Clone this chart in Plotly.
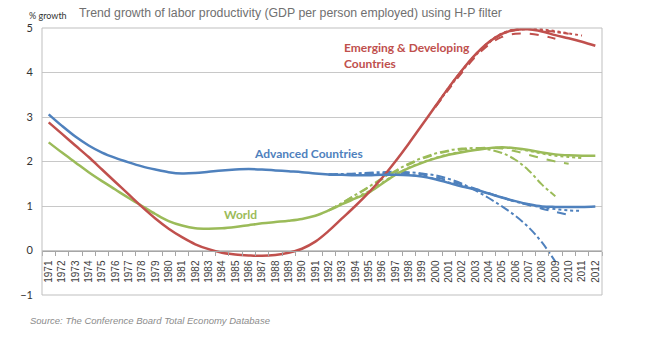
import plotly.graph_objects as go

years = [str(y) for y in range(1971, 2013)]

advanced = [3.06, 2.80, 2.56, 2.36, 2.20, 2.08, 1.98, 1.89, 1.82, 1.76,
            1.73, 1.74, 1.77, 1.80, 1.82, 1.83, 1.82, 1.80, 1.78, 1.76,
            1.73, 1.71, 1.70, 1.69, 1.69, 1.70, 1.70, 1.69, 1.66, 1.60,
            1.52, 1.44, 1.37, 1.28, 1.19, 1.11, 1.04, 0.99, 0.98, 0.98,
            0.98, 0.99]
emerging = [2.88, 2.62, 2.36, 2.10, 1.82, 1.54, 1.26, 0.98, 0.72, 0.49,
            0.30, 0.14, 0.03, -0.05, -0.09, -0.11, -0.12, -0.10, -0.05, 0.04,
            0.20, 0.44, 0.72, 1.00, 1.30, 1.63, 2.00, 2.40, 2.82, 3.24,
            3.66, 4.05, 4.40, 4.68, 4.87, 4.96, 4.97, 4.92, 4.84, 4.77,
            4.69, 4.60]
world = [2.43, 2.20, 1.98, 1.76, 1.56, 1.37, 1.18, 1.00, 0.82, 0.66,
         0.56, 0.50, 0.49, 0.50, 0.53, 0.57, 0.61, 0.64, 0.67, 0.71,
         0.78, 0.90, 1.04, 1.17, 1.30, 1.50, 1.70, 1.85, 1.97, 2.07,
         2.15, 2.21, 2.26, 2.30, 2.32, 2.30, 2.26, 2.20, 2.16, 2.14,
         2.13, 2.13]

# earlier vintages of the estimates (dashed / dash-dot / dotted)
v_years_bg = [str(y) for y in range(1992, 2012)]
adv_dash = [1.71, 1.71, 1.72, 1.73, 1.74, 1.75, 1.74, 1.71, 1.65, 1.57,
            1.48, 1.39, 1.29, 1.19, 1.10, 1.02, 0.94, 0.87, 0.80]
adv_dashdot = [1.71, 1.72, 1.73, 1.75, 1.76, 1.77, 1.76, 1.73, 1.69, 1.61,
               1.50, 1.35, 1.18, 0.99, 0.78, 0.52, 0.18, -0.25]
adv_dot = [1.71, 1.70, 1.70, 1.71, 1.72, 1.72, 1.70, 1.67, 1.61, 1.53,
           1.45, 1.37, 1.28, 1.19, 1.10, 1.03, 0.97, 0.93, 0.90, 0.89]
wld_dash = [0.90, 1.07, 1.24, 1.42, 1.60, 1.77, 1.93, 2.06, 2.16, 2.23,
            2.27, 2.30, 2.31, 2.29, 2.23, 2.15, 2.07, 2.00, 1.95]
wld_dashdot = [0.90, 1.07, 1.25, 1.43, 1.62, 1.79, 1.95, 2.08, 2.18, 2.25,
               2.29, 2.30, 2.27, 2.19, 2.04, 1.80, 1.48, 1.22]
wld_dot = [0.90, 1.05, 1.19, 1.33, 1.52, 1.71, 1.86, 1.98, 2.08, 2.16,
           2.22, 2.27, 2.30, 2.31, 2.29, 2.24, 2.18, 2.13, 2.10, 2.08]
v_years_r = [str(y) for y in range(2000, 2012)]
emg_dash = [3.22, 3.62, 4.00, 4.35, 4.62, 4.80, 4.87, 4.87, 4.83, 4.76]
emg_dashdot = [3.23, 3.64, 4.03, 4.38, 4.66, 4.86, 4.95, 4.97, 4.95, 4.91, 4.87]
emg_dot = [3.24, 3.66, 4.05, 4.40, 4.68, 4.88, 4.97, 4.99, 4.97, 4.93, 4.88, 4.83]

BLUE = "#4F81BD"
RED = "#C0504D"
GREEN = "#9BBB59"

fig = go.Figure()

variants = [
    (v_years_bg, adv_dash, BLUE, "dash"), (v_years_bg, adv_dashdot, BLUE, "dashdot"),
    (v_years_bg, adv_dot, BLUE, "dot"),
    (v_years_bg, wld_dash, GREEN, "dash"), (v_years_bg, wld_dashdot, GREEN, "dashdot"),
    (v_years_bg, wld_dot, GREEN, "dot"),
    (v_years_r, emg_dash, RED, "dash"), (v_years_r, emg_dashdot, RED, "dashdot"),
    (v_years_r, emg_dot, RED, "dot"),
]
for xs, ys, col, dash in variants:
    fig.add_trace(go.Scatter(x=xs[:len(ys)], y=ys, mode="lines",
                             line=dict(color=col, width=2, dash=dash, shape="spline"),
                             showlegend=False, hoverinfo="skip"))

for ys, col in [(world, GREEN), (emerging, RED), (advanced, BLUE)]:
    fig.add_trace(go.Scatter(x=years, y=ys, mode="lines",
                             line=dict(color=col, width=2.5, shape="spline"),
                             showlegend=False))

fig.update_layout(
    width=645, height=339,
    margin=dict(l=42, r=43, t=28, b=44),
    paper_bgcolor="white", plot_bgcolor="white",
    xaxis=dict(type="category", categoryorder="array", categoryarray=years,
               range=[-0.5, 41.5], anchor="free", position=1/6,
               showline=True, linecolor="#A6A6A6", linewidth=1,
               ticks="outside", ticklen=4, tickcolor="#A6A6A6", tickson="boundaries",
               tickangle=-90, showgrid=False, ticklabelstandoff=5,
               tickfont=dict(family="Liberation Sans", size=10, color="#404040")),
    yaxis=dict(range=[-1, 5], tickvals=[-1, 0, 1, 2, 3, 4, 5],
               showgrid=True, gridcolor="#C8C8C8", gridwidth=1, zeroline=False,
               showline=False, ticks="", ticklabelstandoff=8,
               tickfont=dict(family="Lato", size=11, color="#333333")),
)

fig.add_shape(type="rect", xref="paper", yref="paper", x0=0, x1=1, y0=0, y1=1,
              line=dict(color="#BFBFBF", width=1), fillcolor="rgba(0,0,0,0)", layer="above")

fig.add_annotation(xref="paper", yref="paper", x=0.0625, y=1.056, xanchor="left", yanchor="middle",
                   text="Trend growth of labor productivity (GDP per person employed) using H-P filter",
                   showarrow=False, font=dict(family="Liberation Sans", size=12.3, color="#707070"))
fig.add_annotation(xref="paper", yref="paper", x=-0.027, y=1.045, xanchor="left", yanchor="middle",
                   text="% growth", showarrow=False,
                   font=dict(family="Lato", size=9, color="#333333"))
fig.add_annotation(xref="paper", yref="paper", x=-0.025, y=-0.094, xanchor="left", yanchor="middle",
                   text="<i>Source: The Conference Board Total Economy Database</i>", showarrow=False,
                   font=dict(family="Liberation Sans", size=9.5, color="#8C8C8C"))

fig.add_annotation(x=21.99, y=4.39, xref="x", yref="y", xanchor="left", yanchor="middle", align="left",
                   text="<b>Emerging & Developing<br>Countries</b>", showarrow=False,
                   font=dict(family="Lato", size=12, color=RED))
fig.add_annotation(x=15.24, y=2.18, xref="x", yref="y", xanchor="left", yanchor="middle",
                   text="<b>Advanced Countries</b>", showarrow=False,
                   font=dict(family="Lato", size=12, color=BLUE))
fig.add_annotation(x=13.0, y=0.81, xref="x", yref="y", xanchor="left", yanchor="middle",
                   text="<b>World</b>", showarrow=False,
                   font=dict(family="Lato", size=12, color=GREEN))

fig.write_html("out.html")
